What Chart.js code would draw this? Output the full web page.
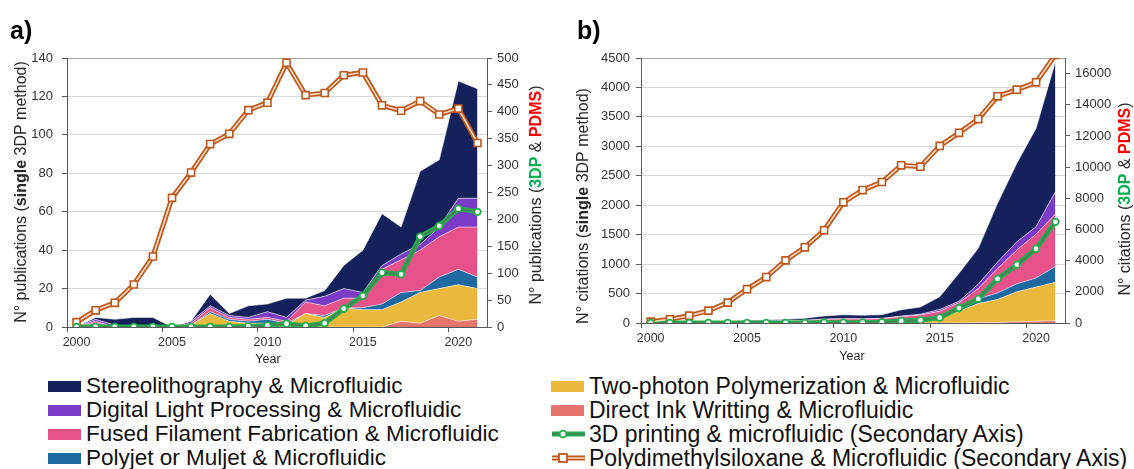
<!DOCTYPE html>
<html>
<head>
<meta charset="utf-8">
<script src="https://cdn.jsdelivr.net/npm/chart.js@4.4.1/dist/chart.umd.min.js"></script>
<style>
  body { margin: 0; width: 1134px; height: 469px; background: #fff; position: relative; overflow: hidden;
         font-family: "Liberation Sans", Arial, sans-serif; }
  canvas { position: absolute; top: 0; }
  #chartA { left: 0; }
  #chartB { left: 567px; }
  .tag { position: absolute; font-weight: bold; font-size: 25px; line-height: 25px; color: #000; }
  .legend { position: absolute; top: 374px; color: #111; }
  .item { display: flex; align-items: center; height: 24px; white-space: nowrap; }
  .sw { width: 33px; height: 11px; margin-right: 5px; flex: none; }
  .item svg { margin-right: 3px; flex: none; }
</style>
</head>
<body>
<canvas id="chartA" width="567" height="370"></canvas>
<canvas id="chartB" width="567" height="370"></canvas>
<div class="tag" style="left:10px;top:18px">a)</div>
<div class="tag" style="left:577px;top:18px">b)</div>
<div class="legend" id="legLeft" style="left:48px;font-size:22.5px"></div>
<div class="legend" id="legRight" style="left:551px;font-size:23px"></div>

<script>
const years = ['2000','2001','2002','2003','2004','2005','2006','2007','2008','2009','2010',
  '2011','2012','2013','2014','2015','2016','2017','2018','2019','2020','2021'];

// a) publications, stacked from bottom
const pubDIW     = [0,0,0,0,0,0,0,0,0,0,0,0,0,0,0,0,0,3,2,6,3,4];
const pubTPP     = [0,1,0,0,1,0,1,7,3,2,2,1,7,5,10,9,9,10,16,14,19,16];
const pubPolyjet = [0,1,0,0,0,0,0,1,1,1,2,1,0,1,0,1,3,5,1,6,8,6];
const pubFFF     = [0,1,0,0,0,0,1,2,1,1,1,1,6,5,5,5,18,17,21,21,22,26];
const pubDLP     = [0,1,1,0,0,0,1,1,1,1,3,2,1,5,5,3,2,3,3,5,15,15];
const pubSLA     = [0,1,3,5,4,0,0,6,1,6,4,10,1,3,12,22,27,14,38,35,61,57];
// secondary axis
const pub3DP  = [0,0,0,0,0,0,0,0,0,1,3,6,2,7,34,58,101,98,168,188,220,214];
const pubPDMS = [9,31,45,79,131,240,287,340,359,403,417,491,431,435,468,473,412,402,420,395,406,342];

// b) citations, stacked from bottom
const citeDIW     = [0,0,0,0,0,0,0,0,0,0,0,0,0,0,0,0,2,5,10,20,30,40];
const citeTPP     = [0,0,0,2,3,5,5,6,6,8,8,8,10,17,30,85,198,325,390,510,580,650];
const citePolyjet = [0,2,3,3,5,9,9,10,10,14,16,16,18,23,25,25,55,80,110,135,155,270];
const citeFFF     = [0,1,2,3,4,20,16,24,26,40,44,42,46,68,81,90,90,175,415,575,745,890];
const citeDLP     = [0,1,1,2,2,4,4,5,4,6,6,6,6,10,14,30,25,75,110,140,125,380];
const citeSLA     = [0,2,5,4,9,13,17,17,33,51,66,60,60,107,120,217,474,608,997,1331,1670,2207];
// secondary axis
const cite3DP  = [0,0,0,0,0,0,0,0,0,20,20,20,45,129,172,343,960,1546,2830,3737,4768,6488];
const citePDMS = [84,238,470,793,1308,2171,2945,4017,4854,5950,7740,8527,9043,10116,10030,11360,12200,13080,14540,14970,15440,17200];

// tick values
const pubTicks   = [0,20,40,60,80,100,120,140];
const pubTicks2  = [0,50,100,150,200,250,300,350,400,450,500];
const citeTicks  = [0,500,1000,1500,2000,2500,3000,3500,4000,4500];
const citeTicks2 = [0,2000,4000,6000,8000,10000,12000,14000,16000];

const areaNames = ['Direct Ink Writting & Microfluidic', 'Two-photon Polymerization & Microfluidic',
  'Polyjet or Muljet & Microfluidic', 'Fused Filament Fabrication & Microfluidic',
  'Digital Light Processing & Microfluidic', 'Stereolithography & Microfluidic'];
const areaColors = ['#e8756c', '#e9b83c', '#1f69a3', '#e8528b', '#7a3cc6', '#14215a'];
const lineNames = ['3D printing & microfluidic (Secondary Axis)', 'Polydimethylsiloxane & Microfluidic (Secondary Axis)'];

const GREEN = '#1fae4b', GREEN_IN = '#4f7d5c', BROWN = '#c0561a', BROWN_IN = '#f7dcc6';
const AXIS = '#595959', GRID = '#d9d9d9', TXT = '#333';
const FONT = '"Liberation Sans", Arial, sans-serif';

// axis titles with mixed bold / colour
const axisTitles = {
  id: 'axisTitles',
  afterDraw(chart, args, opts) {
    const ctx = chart.ctx;
    opts.items.forEach(it => {
      ctx.save();
      ctx.translate(it.x, it.y);
      if (it.rotate) ctx.rotate(-Math.PI / 2);
      ctx.textBaseline = 'middle';
      ctx.textAlign = 'left';
      let total = 0;
      it.segs.forEach(s => {
        ctx.font = (s.b ? 'bold ' : '') + it.size + 'px ' + FONT;
        total += ctx.measureText(s.t).width;
      });
      let x = -total / 2;
      it.segs.forEach(s => {
        ctx.font = (s.b ? 'bold ' : '') + it.size + 'px ' + FONT;
        ctx.fillStyle = s.c || '#262626';
        ctx.fillText(s.t, x, 0);
        x += ctx.measureText(s.t).width;
      });
      ctx.restore();
    });
  }
};

const asTicks = arr => arr.map(v => ({ value: v }));

function makeChart(id, areas, green, brown, o) {
  const datasets = areas.map((d, i) => ({
    label: areaNames[i], data: d, yAxisID: 'y',
    backgroundColor: areaColors[i], borderColor: 'rgba(255,255,255,0.55)', borderWidth: 1,
    fill: i === 0 ? 'origin' : '-1', pointRadius: 0, tension: 0, order: 1
  }));
  // lines: inner strokes carry the markers, outer strokes give the double-line look
  datasets.push(
    { label: lineNames[0], data: green, yAxisID: 'y2', borderColor: GREEN_IN, borderWidth: 1.6, fill: false,
      pointStyle: 'circle', pointRadius: 3.3, pointBackgroundColor: '#fff', pointBorderColor: GREEN, pointBorderWidth: 1.8, order: 0 },
    { label: lineNames[1], data: brown, yAxisID: 'y2', borderColor: BROWN_IN, borderWidth: 1.6, fill: false,
      pointStyle: 'rect', pointRadius: 5, pointBackgroundColor: '#fff', pointBorderColor: BROWN, pointBorderWidth: 1.6, order: 0 },
    { label: 'g', data: green, yAxisID: 'y2', borderColor: GREEN, borderWidth: 5, fill: false, pointRadius: 0, order: 0 },
    { label: 'b', data: brown, yAxisID: 'y2', borderColor: BROWN, borderWidth: 5, fill: false, pointRadius: 0, order: 0 }
  );

  return new Chart(document.getElementById(id), {
    type: 'line',
    data: { labels: years, datasets },
    plugins: [axisTitles],
    options: {
      responsive: false, animation: false, events: [],
      layout: { padding: { top: 58, left: 0, right: 0, bottom: 0 } },
      plugins: { legend: { display: false }, tooltip: { enabled: false }, axisTitles: { items: o.titles } },
      scales: {
        x: {
          type: 'category', offset: true,
          afterFit: s => { s.height = o.xh; },
          grid: { drawOnChartArea: false, offset: true, tickLength: 5,
                  tickColor: c => (c.index % 5 === 0 ? AXIS : 'rgba(0,0,0,0)') },
          border: { color: AXIS },
          ticks: { autoSkip: false, maxRotation: 0, padding: 3, color: TXT, font: { family: FONT, size: 12.5 },
                   callback: (v, i) => (i % 5 === 0 ? years[i] : '') }
        },
        y: {
          position: 'left', stacked: true, min: 0, max: o.ticks[o.ticks.length - 1],
          afterFit: s => { s.width = o.lw; },
          afterBuildTicks: s => { s.ticks = asTicks(o.ticks); },
          grid: { color: c => (c.tick && c.tick.value === s_max(o) ? '#a6a6a6' : GRID), tickColor: AXIS, tickLength: 5 },
          border: { color: AXIS },
          ticks: { padding: o.lpad, color: TXT, font: { family: FONT, size: 13 }, callback: v => String(v) }
        },
        y2: {
          position: 'right', min: 0, max: o.max2,
          afterFit: s => { s.width = o.rw; },
          afterBuildTicks: s => { s.ticks = asTicks(o.ticks2); },
          grid: { drawOnChartArea: false, tickColor: AXIS, tickLength: 5 },
          border: { color: AXIS },
          ticks: { padding: 5, color: TXT, font: { family: FONT, size: 13 }, callback: v => String(v) }
        }
      }
    }
  });
}
function s_max(o) { return o.ticks[o.ticks.length - 1]; }

makeChart('chartA', [pubDIW, pubTPP, pubPolyjet, pubFFF, pubDLP, pubSLA], pub3DP, pubPDMS, {
  ticks: pubTicks, ticks2: pubTicks2, max2: 500, lw: 67, rw: 80, xh: 43, lpad: 9,
  titles: [
    { x: 22, y: 192, rotate: true, size: 16,
      segs: [{ t: 'N° publications (' }, { t: 'single', b: true }, { t: ' 3DP method)' }] },
    { x: 537, y: 195, rotate: true, size: 16,
      segs: [{ t: 'N° publications (' }, { t: '3DP', b: true, c: '#00b050' }, { t: ' & ' },
             { t: 'PDMS', b: true, c: '#ff0000' }, { t: ')' }] },
    { x: 268, y: 360, size: 12.5, segs: [{ t: 'Year' }] }
  ]
});

makeChart('chartB', [citeDIW, citeTPP, citePolyjet, citeFFF, citeDLP, citeSLA], cite3DP, citePDMS, {
  ticks: citeTicks, ticks2: citeTicks2, max2: 17000, lw: 74, rw: 69, xh: 47, lpad: 6,
  titles: [
    { x: 17, y: 206, rotate: true, size: 16,
      segs: [{ t: 'N° citations (' }, { t: 'single', b: true }, { t: ' 3DP method)' }] },
    { x: 559, y: 199, rotate: true, size: 16,
      segs: [{ t: 'N° citations (' }, { t: '3DP', b: true, c: '#00b050' }, { t: ' & ' },
             { t: 'PDMS', b: true, c: '#ff0000' }, { t: ')' }] },
    { x: 285, y: 357, size: 12.5, segs: [{ t: 'Year' }] }
  ]
});

// legend
function swatch(i) {
  return `<div class="item"><div class="sw" style="background:${areaColors[i]}"></div>${areaNames[i]}</div>`;
}
function lineIcon(outer, inner, circle) {
  const mk = circle
    ? `<circle cx="12" cy="8" r="3.4" fill="#fff" stroke="${outer}" stroke-width="1.8"/>`
    : `<rect x="8" y="4" width="8" height="8" fill="#fff" stroke="${outer}" stroke-width="1.8"/>`;
  return `<svg width="35" height="16"><line x1="1" y1="8" x2="34" y2="8" stroke="${outer}" stroke-width="5"/>` +
    `<line x1="1" y1="8" x2="34" y2="8" stroke="${inner}" stroke-width="1.6"/>${mk}</svg>`;
}
document.getElementById('legLeft').innerHTML = [5, 4, 3, 2].map(swatch).join('');
document.getElementById('legRight').innerHTML = swatch(1) + swatch(0) +
  `<div class="item">${lineIcon(GREEN, GREEN_IN, true)}${lineNames[0]}</div>` +
  `<div class="item">${lineIcon(BROWN, BROWN_IN, false)}${lineNames[1]}</div>`;
</script>
</body>
</html>
